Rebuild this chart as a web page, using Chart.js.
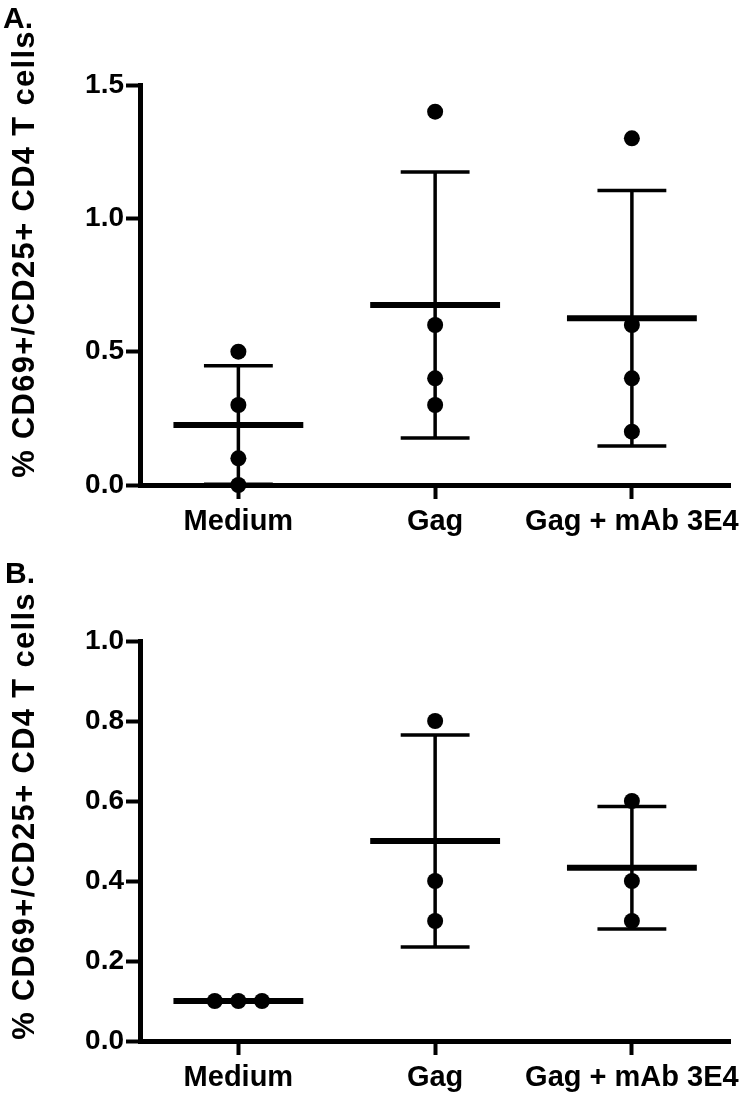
<!DOCTYPE html>
<html><head><meta charset="utf-8">
<script src="https://cdn.jsdelivr.net/npm/chart.js@4.4.1/dist/chart.umd.min.js"></script>
<style>
html,body{margin:0;padding:0;background:#fff;}
#wrap{position:relative;width:746px;height:1097px;overflow:hidden;}
.panel{position:absolute;left:0;width:746px;}
#pa{top:0;height:548px;}
#pb{top:548px;height:549px;}
canvas{display:block;}
</style></head><body>
<div id="wrap">
<div class="panel" id="pa"><canvas id="ca" width="746" height="548"></canvas></div>
<div class="panel" id="pb"><canvas id="cb" width="746" height="549"></canvas></div>
</div>
<script>
// ---------- data ----------
const categories = ['Medium', 'Gag', 'Gag + mAb 3E4'];
const yTitle = '% CD69+/CD25+ CD4 T cells';

// Panel A
const aMedium = [0.5, 0.3, 0.1, 0.0];
const aGag = [1.4, 0.6, 0.4, 0.3];
const aGagMab = [1.3, 0.6, 0.4, 0.2];
const aMean = [0.225, 0.675, 0.625];
const aSD = [0.222, 0.499, 0.479];
const aTicks = [0.0, 0.5, 1.0, 1.5];

// Panel B
const bMedium = [0.1, 0.1, 0.1];
const bGag = [0.8, 0.4, 0.3];
const bGagMab = [0.6, 0.4, 0.3];
const bMean = [0.1, 0.5, 0.433];
const bSD = [0.0, 0.265, 0.153];
const bTicks = [0.0, 0.2, 0.4, 0.6, 0.8, 1.0];

// ---------- styling ----------
const FONT = '"Liberation Sans", Arial, Helvetica, sans-serif';
Chart.defaults.font.family = FONT;
Chart.defaults.color = '#000';
const JITTER_STEP = 0.12;   // horizontal spread for tied values (category units)
const MEAN_HALF = 0.33;     // half-width of mean line
const CAP_HALF = 0.175;     // half-width of SD caps
const GAP = {x: NaN, y: NaN};

function scatterPoints(groups) {
  const pts = [];
  groups.forEach((vals, gi) => {
    const counts = {}, seen = {};
    vals.forEach(v => { counts[v] = (counts[v] || 0) + 1; });
    vals.forEach(v => {
      const k = counts[v];
      const j = seen[v] = (seen[v] === undefined ? 0 : seen[v] + 1);
      pts.push({x: gi + (j - (k - 1) / 2) * JITTER_STEP, y: v});
    });
  });
  return pts;
}
function meanSegments(means) {
  const d = [];
  means.forEach((m, i) => { d.push({x: i - MEAN_HALF, y: m}, {x: i + MEAN_HALF, y: m}, GAP); });
  return d;
}
function sdSegments(means, sds) {
  const d = [];
  means.forEach((m, i) => {
    const s = sds[i];
    if (!s) return;
    d.push({x: i, y: m - s}, {x: i, y: m + s}, GAP);
    d.push({x: i - CAP_HALF, y: m + s}, {x: i + CAP_HALF, y: m + s}, GAP);
    d.push({x: i - CAP_HALF, y: m - s}, {x: i + CAP_HALF, y: m - s}, GAP);
  });
  return d;
}

const textPlugin = {
  id: 'panelText',
  afterDraw(chart, args, opts) {
    const ctx = chart.ctx;
    ctx.save();
    ctx.fillStyle = '#000';
    ctx.font = 'bold ' + opts.letterSize + 'px ' + FONT;
    ctx.textAlign = 'left';
    ctx.textBaseline = 'top';
    ctx.fillText(opts.letter, opts.letterX, opts.letterY);
    ctx.translate(opts.titleX, opts.titleY);
    ctx.rotate(-Math.PI / 2);
    ctx.font = 'bold ' + opts.titleSize + 'px ' + FONT;
    if ('letterSpacing' in ctx) ctx.letterSpacing = opts.titleSpacing + 'px';
    ctx.textAlign = 'center';
    ctx.textBaseline = 'middle';
    ctx.fillText(yTitle, 0, 0);
    ctx.restore();
  }
};

function makePanel(canvasId, groups, means, sds, ticks, geo) {
  const canvas = document.getElementById(canvasId);
  const H = canvas.height;
  return new Chart(canvas, {
    type: 'scatter',
    data: {
      datasets: [
        {
          type: 'line', data: meanSegments(means), showLine: true, spanGaps: false,
          borderColor: '#000', borderWidth: 6, pointRadius: 0, clip: false, order: 3
        },
        {
          type: 'line', data: sdSegments(means, sds), showLine: true, spanGaps: false,
          borderColor: '#000', borderWidth: 3.5, pointRadius: 0, clip: false, order: 2
        },
        {
          data: scatterPoints(groups), pointRadius: 8, pointHoverRadius: 8,
          backgroundColor: '#000', borderWidth: 0, clip: false, order: 1
        }
      ]
    },
    options: {
      responsive: false, animation: false, devicePixelRatio: 1,
      events: [],
      layout: {padding: {top: geo.top, right: 6, bottom: 0, left: 0}},
      plugins: {
        legend: {display: false}, tooltip: {enabled: false},
        panelText: geo.text
      },
      scales: {
        x: {
          type: 'linear', min: -0.5, max: 2.5,
          afterFit(s) { s.height = H - geo.bottom; },
          afterBuildTicks(s) { s.ticks = categories.map((c, i) => ({value: i})); },
          grid: {drawOnChartArea: false, drawTicks: true, tickLength: 14, tickWidth: 4, tickColor: '#000'},
          border: {display: true, color: '#000', width: 5},
          ticks: {
            callback: v => categories[v], autoSkip: false, maxRotation: 0, padding: 6,
            font: {size: 29, weight: 'bold'}, color: '#000'
          }
        },
        y: {
          type: 'linear', min: ticks[0], max: ticks[ticks.length - 1],
          afterFit(s) { s.width = 140; },
          afterBuildTicks(s) { s.ticks = ticks.map(v => ({value: v})); },
          grid: {drawOnChartArea: false, drawTicks: true, tickLength: 14, tickWidth: 4, tickColor: '#000'},
          border: {display: true, color: '#000', width: 5},
          ticks: {
            callback: v => Number(v).toFixed(1), padding: 2,
            font: {size: 28, weight: 'bold'}, color: '#000'
          }
        }
      }
    },
    plugins: [textPlugin]
  });
}

makePanel('ca', [aMedium, aGag, aGagMab], aMean, aSD, aTicks, {
  top: 85, bottom: 485,
  text: {letter: 'A.', letterSize: 30, letterX: 3, letterY: 5,
         titleX: 25, titleY: 254, titleSize: 31, titleSpacing: 1.3}
});
makePanel('cb', [bMedium, bGag, bGagMab], bMean, bSD, bTicks, {
  top: 93, bottom: 493,
  text: {letter: 'B.', letterSize: 30, letterX: 5, letterY: 12,
         titleX: 25, titleY: 268, titleSize: 31, titleSpacing: 1.3}
});
</script>
</body></html>
